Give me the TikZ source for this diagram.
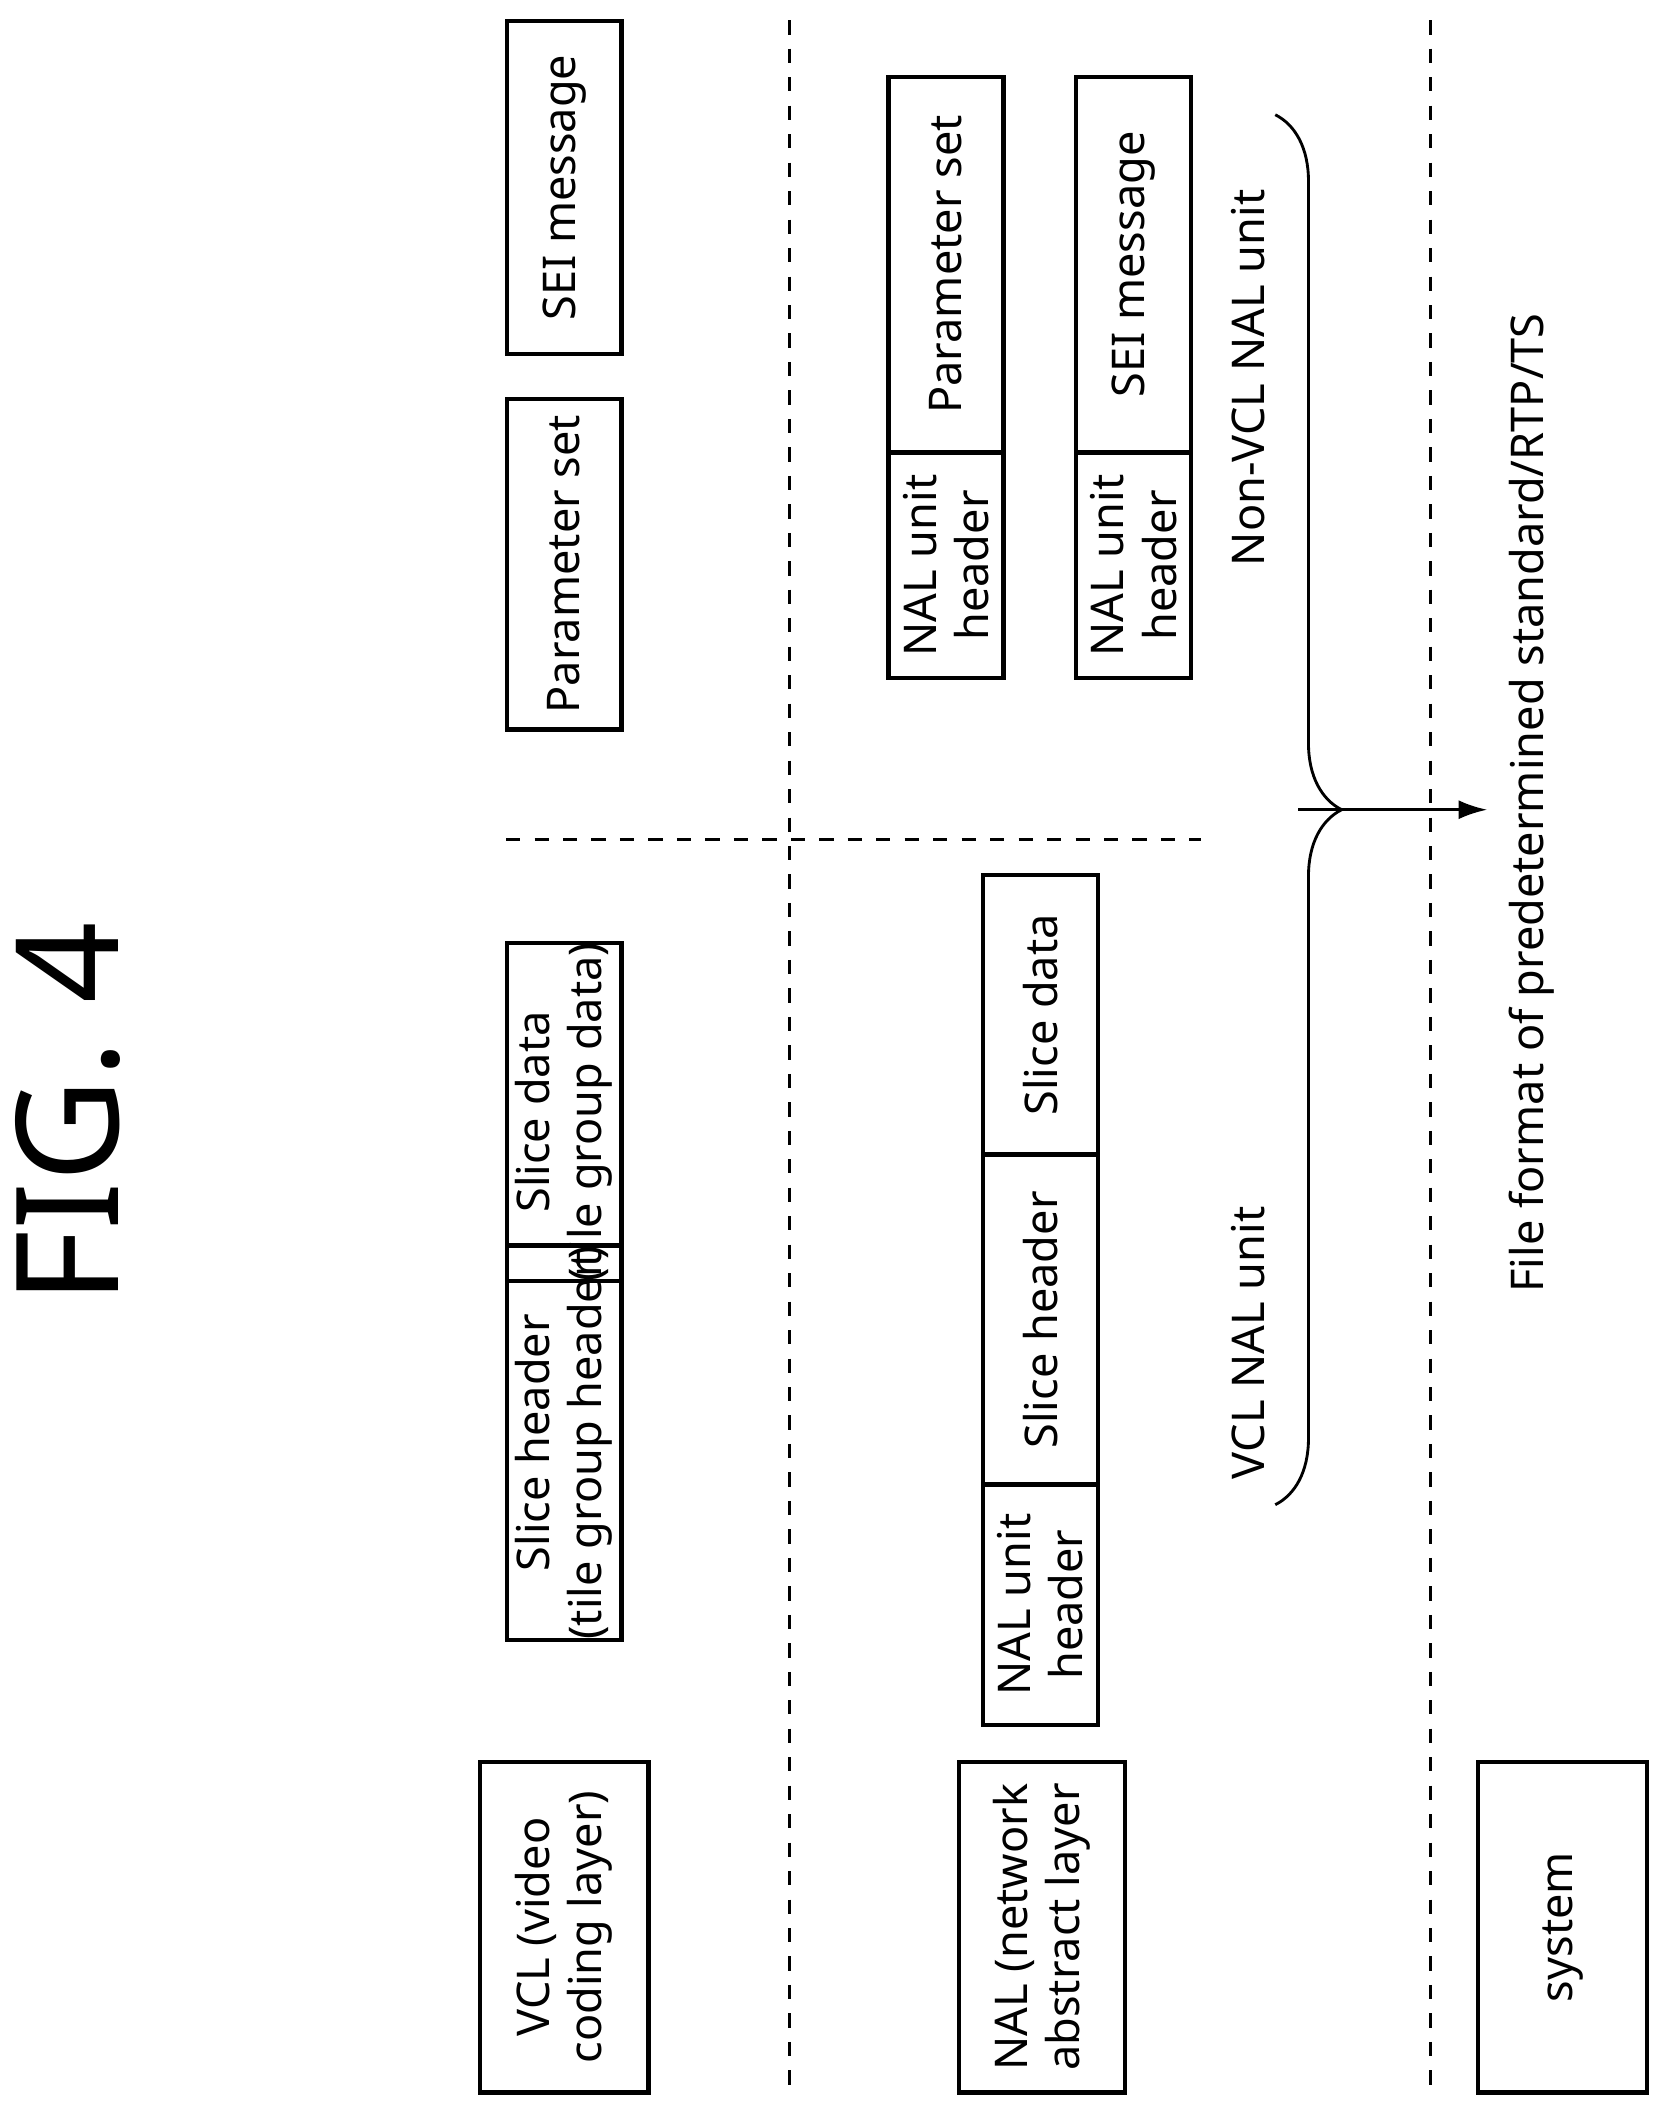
\documentclass[tikz,border=0pt]{standalone}
\usepackage{fontspec}
\setmainfont{Noto Sans}
\usetikzlibrary{decorations.pathreplacing, arrows.meta}

\begin{document}
\begin{tikzpicture}[x=0.01cm, y=-0.01cm,
box/.style={draw, line width=0.9pt, rotate=90, align=center, inner sep=0pt,
  font=\fontsize{9.5}{11}\selectfont, minimum height=0.85cm},
label/.style={rotate=90, align=center, font=\fontsize{9.5}{11}\selectfont},
sep/.style={dashed, line width=0.6pt},
line/.style={draw, line width=0.6pt, -{Latex[length=6pt,width=4pt]}}
]
\useasboundingbox (0,0) rectangle (1237,1568);
\node [rotate=90, font=\fontsize{30}{34}\selectfont] (title) at (50,825) {FIG. 4};

% separators
\draw [sep] (585,15) -- (585,1550);
\draw [sep] (1060,15) -- (1060,1550);
\draw [sep] (375,622) -- (890,622);

% layers
\node [box, minimum width=2.45cm, minimum height=1.25cm] (vcl) at (418,1428) {VCL (video\\coding layer)};
\node [box, minimum width=2.45cm, minimum height=1.23cm] (nal) at (772,1428) {NAL (network\\abstract layer};
\node [box, minimum width=2.45cm, minimum height=1.25cm] (system) at (1158,1428) {system};

% VCL contents
\node [box, minimum width=2.45cm] (vcl-param) at (418,418) {Parameter set};
\node [box, minimum width=2.47cm] (vcl-sei) at (418,139) {SEI message};
\node [box, minimum width=2.48cm] (vcl-sh) at (418,1069) {Slice header\\(tile group header)};
\node [box, minimum width=2.43cm] (vcl-sd) at (418,824) {Slice data\\(tile group data)};

% VCL NAL unit
\node [box, minimum width=1.78cm] (nal-hdr) at (771,1189) {NAL unit\\header};
\node [box, minimum width=2.45cm] (nal-sh) at (771,978) {Slice header};
\node [box, minimum width=2.07cm] (nal-sd) at (771,752) {Slice data};

% Non-VCL NAL units
\node [box, minimum width=2.78cm] (nv-param) at (701,196) {Parameter set};
\node [box, minimum width=1.67cm] (nv-hdr1) at (701,419) {NAL unit\\header};
\node [box, minimum width=2.78cm] (nv-sei) at (840,196) {SEI message};
\node [box, minimum width=1.67cm] (nv-hdr2) at (840,419) {NAL unit\\header};

\node [label] (nonvcl-lbl) at (925,280) {Non-VCL NAL unit};
\node [label] (vcl-lbl) at (925,995) {VCL NAL unit};

\draw [line width=0.6pt, decorate, decoration={brace, amplitude=14pt}] (945,85) -- (945,1115);
\coordinate (tip) at (962,600);
\node [label] (file) at (1135,595) {File format of predetermined standard/RTP/TS};
\path [line] (tip) -- (1102,600);
\end{tikzpicture}
\end{document}
